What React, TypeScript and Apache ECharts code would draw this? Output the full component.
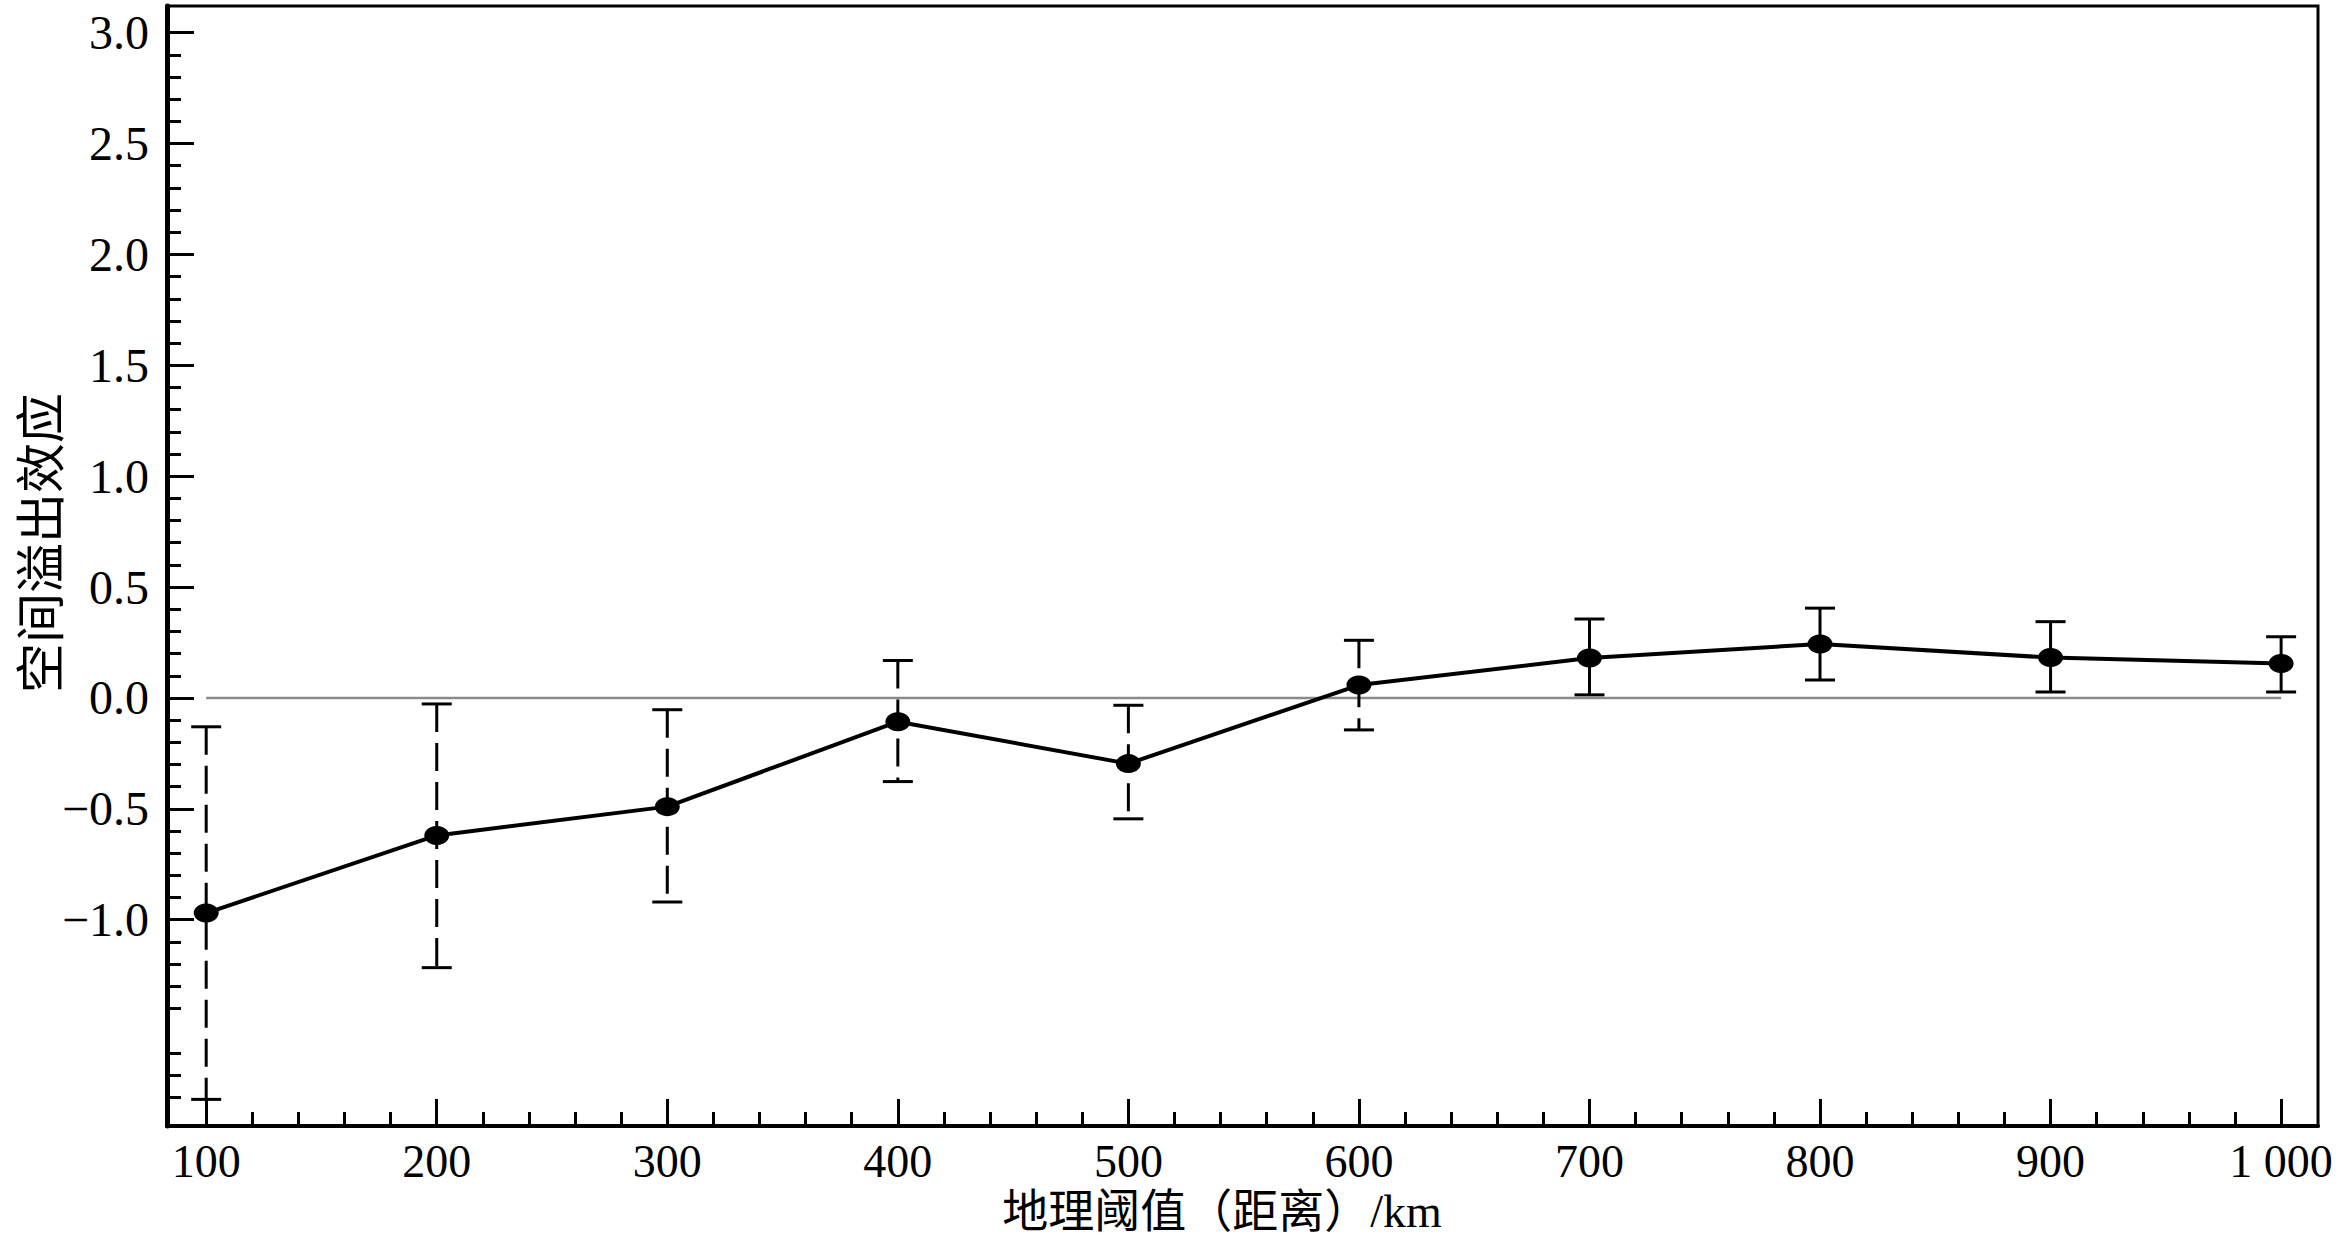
import React, { useEffect, useRef } from "react";
import * as echarts from "echarts";

const distances = [100, 200, 300, 400, 500, 600, 700, 800, 900, 1000];
const effects = [-0.97, -0.62, -0.49, -0.107, -0.296, 0.058, 0.18, 0.243, 0.182, 0.155];
const upper = [-0.13, -0.027, -0.053, 0.169, -0.033, 0.26, 0.356, 0.405, 0.344, 0.276];
const lower = [-1.81, -1.216, -0.92, -0.377, -0.545, -0.144, 0.014, 0.081, 0.027, 0.027];
const dashedBar = [1, 1, 1, 1, 1, 1, 0, 0, 0, 0];

const xTickLabels = [100, 200, 300, 400, 500, 600, 700, 800, 900, 1000];
const yTickLabels = [-1.0, -0.5, 0.0, 0.5, 1.0, 1.5, 2.0, 2.5, 3.0];

const xMinorTicks: number[] = [];
for (let v = 120; v < 1000; v += 20) if (v % 100 !== 0) xMinorTicks.push(v);
const yMinorTicks: number[] = [];
for (let i = -18; i <= 29; i++) if (i % 5 !== 0) yMinorTicks.push(i / 10);

const SERIF = "'Liberation Serif', 'Times New Roman', 'Noto Sans CJK SC', serif";

export default function App() {
  const ref = useRef<HTMLDivElement>(null);
  useEffect(() => {
    if (!ref.current) return;
    const chart = echarts.init(ref.current, undefined, { renderer: "svg" });
    const common = { type: "value", min: 83, max: 1016, gridIndex: 0, position: "bottom", splitLine: { show: false } };
    const commonY = { type: "value", min: -1.93, max: 3.12, gridIndex: 0, position: "left", splitLine: { show: false } };
    chart.setOption({
      animation: false,
      backgroundColor: "#fff",
      grid: {
        left: 167,
        right: 27,
        top: 6,
        bottom: 112,
        show: true,
        borderColor: "#000",
        borderWidth: 3,
        backgroundColor: "transparent",
      },
      xAxis: [
        {
          ...common,
          axisLine: { show: true, onZero: false, lineStyle: { color: "#000", width: 4 } },
          axisTick: { show: true, inside: true, length: 27, customValues: xTickLabels, lineStyle: { color: "#000", width: 3 } },
          axisLabel: {
            show: true,
            customValues: xTickLabels,
            formatter: (v: number) => (v === 1000 ? "1 000" : String(v)),
            fontSize: 46,
            fontFamily: SERIF,
            color: "#000",
            margin: 12,
          },
        },
        {
          ...common,
          axisLine: { show: false, onZero: false },
          axisTick: { show: true, inside: true, length: 14, customValues: xMinorTicks, lineStyle: { color: "#000", width: 3 } },
          axisLabel: { show: false },
        },
      ],
      yAxis: [
        {
          ...commonY,
          axisLine: { show: true, onZero: false, lineStyle: { color: "#000", width: 5 } },
          axisTick: { show: true, inside: true, length: 27, customValues: yTickLabels, lineStyle: { color: "#000", width: 3 } },
          axisLabel: {
            show: true,
            customValues: yTickLabels,
            formatter: (v: number) => (v < 0 ? "\u2212" + Math.abs(v).toFixed(1) : v.toFixed(1)),
            fontSize: 48,
            fontFamily: SERIF,
            color: "#000",
            margin: 18,
          },
        },
        {
          ...commonY,
          axisLine: { show: false, onZero: false },
          axisTick: { show: true, inside: true, length: 14, customValues: yMinorTicks, lineStyle: { color: "#000", width: 3 } },
          axisLabel: { show: false },
        },
      ],
      graphic: [
        {
          type: "text",
          x: 42,
          y: 543,
          rotation: Math.PI / 2,
          style: {
            text: "空间溢出效应",
            font: `50px ${SERIF}`,
            fill: "#000",
            align: "center",
            verticalAlign: "middle",
          },
        },
        {
          type: "text",
          x: 1222,
          y: 1211,
          style: {
            text: "地理阈值（距离）/km",
            font: `46px ${SERIF}`,
            fill: "#000",
            align: "center",
            verticalAlign: "middle",
          },
        },
      ],
      series: [
        {
          type: "line",
          xAxisIndex: 0,
          yAxisIndex: 0,
          data: [
            [distances[0], 0],
            [distances[distances.length - 1], 0],
          ],
          symbol: "none",
          lineStyle: { color: "#8a8a8a", width: 2.5 },
          z: 1,
          silent: true,
        },
        {
          type: "custom",
          xAxisIndex: 0,
          yAxisIndex: 0,
          data: distances.map((d, i) => [d, lower[i], upper[i], dashedBar[i]]),
          renderItem: (params: any, api: any) => {
            const x = api.value(0);
            const lo = api.coord([x, api.value(1)]);
            const hi = api.coord([x, api.value(2)]);
            const dash = api.value(3) === 1;
            const cap = 15;
            return {
              type: "group",
              children: [
                {
                  type: "line",
                  shape: { x1: hi[0], y1: hi[1], x2: lo[0], y2: lo[1] },
                  style: { stroke: "#000", lineWidth: 3, lineDash: dash ? [28, 11] : null },
                },
                {
                  type: "line",
                  shape: { x1: hi[0] - cap, y1: hi[1], x2: hi[0] + cap, y2: hi[1] },
                  style: { stroke: "#000", lineWidth: 3 },
                },
                {
                  type: "line",
                  shape: { x1: lo[0] - cap, y1: lo[1], x2: lo[0] + cap, y2: lo[1] },
                  style: { stroke: "#000", lineWidth: 3 },
                },
              ],
            };
          },
          z: 2,
          silent: true,
        },
        {
          type: "line",
          xAxisIndex: 0,
          yAxisIndex: 0,
          data: distances.map((d, i) => [d, effects[i]]),
          symbol: "circle",
          symbolSize: [25, 19],
          showSymbol: true,
          itemStyle: { color: "#000", borderWidth: 0 },
          lineStyle: { color: "#000", width: 4 },
          z: 3,
          silent: true,
        },
      ],
    });
    return () => chart.dispose();
  }, []);
  return <div ref={ref} style={{ position: "absolute", left: 0, top: 0, width: 2345, height: 1238 }} />;
}
